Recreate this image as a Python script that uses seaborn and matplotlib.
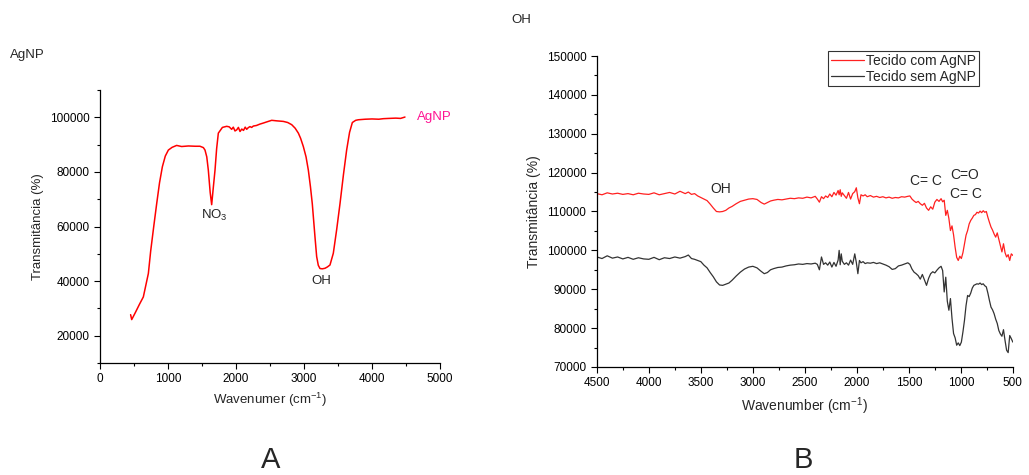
import numpy as np
import pandas as pd
import matplotlib
matplotlib.use('Agg')
import matplotlib.pyplot as plt
import seaborn as sns

# --- painel A: espectro da AgNP ---
a_x = [450, 466, 520, 580, 637, 711, 745, 790, 833, 875,
       917, 960, 1005, 1060, 1127, 1200, 1300, 1400, 1470, 1520,
       1544, 1570, 1593, 1620, 1642, 1665, 1691, 1715, 1740, 1800,
       1863, 1900, 1936, 1960, 1985, 2010, 2035, 2059, 2085, 2110,
       2135, 2157, 2180, 2205, 2230, 2255, 2300, 2350, 2402, 2450,
       2525, 2600, 2696, 2760, 2819, 2870, 2917, 2950, 2990, 3030,
       3064, 3095, 3122, 3162, 3186, 3210, 3235, 3270, 3309, 3345,
       3382, 3431, 3480, 3529, 3580, 3627, 3670, 3711, 3760, 3799,
       3900, 4000, 4100, 4167, 4250, 4350, 4420, 4485]
a_y = [27700, 25900, 28500, 31500, 34200, 42800, 51000, 60000, 68300, 76000,
       81900, 85800, 88000, 89000, 89700, 89300, 89500, 89400, 89400, 88900,
       88000, 85500, 80600, 72500, 68000, 74000, 80600, 88500, 94200, 96300,
       96700, 96500, 95600, 96400, 95000, 95400, 96300, 94800, 95700, 95200,
       96400, 95600, 96200, 96600, 96300, 96800, 97000, 97500, 97900, 98300,
       98900, 98700, 98500, 98100, 97300, 96000, 94200, 92300, 89300, 85500,
       80600, 74500, 68300, 56000, 49000, 45800, 44600, 44500, 44700, 45200,
       45900, 50200, 58800, 68300, 79000, 88000, 94500, 98100, 98900, 99100,
       99300, 99400, 99300, 99500, 99600, 99700, 99600, 100100]

# --- painel B: tecido com e sem AgNP ---
b_x = [4500, 4450, 4400, 4350, 4300, 4250, 4200, 4150, 4100, 4050,
       4000, 3950, 3900, 3850, 3800, 3750, 3700, 3650, 3620, 3590,
       3560, 3530, 3500, 3470, 3440, 3410, 3380, 3350, 3320, 3290,
       3260, 3230, 3200, 3160, 3120, 3080, 3040, 3000, 2960, 2920,
       2890, 2860, 2830, 2800, 2760, 2720, 2680, 2640, 2600, 2560,
       2520, 2480, 2440, 2400, 2380, 2360, 2340, 2320, 2300, 2280,
       2260, 2240, 2220, 2200, 2180, 2170, 2160, 2150, 2140, 2120,
       2100, 2080, 2060, 2040, 2020, 2005, 1990, 1975, 1960, 1940,
       1920, 1900, 1870, 1840, 1810, 1780, 1750, 1720, 1690, 1660,
       1630, 1600, 1570, 1540, 1510, 1490, 1470, 1450, 1430, 1410,
       1390, 1370, 1350, 1330, 1310, 1290, 1270, 1250, 1230, 1210,
       1190, 1175, 1160, 1145, 1130, 1115, 1100, 1085, 1070, 1055,
       1040, 1025, 1010, 995, 980, 965, 950, 935, 920, 905,
       890, 875, 860, 845, 830, 815, 800, 785, 770, 755,
       740, 725, 710, 695, 680, 665, 650, 635, 620, 605,
       590, 575, 560, 545, 530, 515, 500]
com_agnp = [114600, 114300, 114800, 114500, 114700, 114400, 114600, 114300, 114700, 114500,
            114400, 114800, 114300, 114600, 114900, 114500, 115200, 114600, 115000, 114400,
            114600, 114000, 113600, 113200, 112800, 111900, 110900, 110000, 109900, 110000,
            110300, 110900, 111300, 112000, 112600, 112900, 113200, 113300, 113100, 112300,
            111900, 112300, 112700, 112900, 113100, 113000, 113200, 113400, 113300, 113500,
            113400, 113700, 113500, 113900, 113200, 112400, 113800, 113300, 114000, 113600,
            114500, 113800, 114900, 114200, 115400, 114300, 115600, 113900, 114800, 114100,
            113400, 114900, 113200, 114600, 115100, 116100, 113500, 112000, 114300, 114000,
            114300, 113800, 114100, 113700, 113900, 113600, 113800, 113500, 113700, 113400,
            113600, 113500, 113800, 113700, 113900, 114000, 113200, 112700, 112300, 112600,
            112000, 111600, 112100, 110900, 110300, 111200, 110600, 112400, 113100, 112600,
            113300, 112500, 112900, 109000, 110300, 108200, 105100, 106300, 104000, 100800,
            98200, 97400, 98500, 97900, 99400, 101700, 103900, 105100, 106800, 107700,
            108300, 109000, 109200, 109800, 109600, 110100, 109700, 110200, 109800, 110000,
            108500, 107200, 106000, 105200, 104200, 103400, 104500, 102900, 101200, 99600,
            101700, 99400, 98300, 98900, 97400, 99100, 98700]
sem_agnp = [98300, 97900, 98600, 98000, 98300, 97800, 98200, 97700, 98100, 97800,
            97700, 98200, 97600, 98100, 97900, 98300, 98000, 98400, 98800, 97900,
            97700, 97400, 97100, 96200, 95500, 94300, 93200, 91900, 91100, 91000,
            91300, 91600, 92300, 93400, 94400, 95200, 95700, 95900, 95500, 94600,
            94000, 94300, 95000, 95300, 95600, 95700, 96000, 96200, 96300, 96500,
            96400, 96600, 96500, 96700, 96400, 95000, 98300, 96400, 96800, 96200,
            97000, 95700, 96900, 95900, 97500, 100000, 96300, 99100, 97200, 96400,
            96800, 96200, 97500, 96400, 99100, 96900, 94000, 97400, 96800, 97100,
            96600, 96800, 96700, 96900, 96600, 96800, 96500, 96200, 95800, 95100,
            95300, 96000, 96200, 96500, 96800, 96400, 95200, 94400, 94000, 93500,
            92600, 93800, 92400, 91000, 92800, 94000, 94500, 94200, 94900, 95500,
            95900, 94800, 89300, 93100, 86900, 84600, 87600, 82500, 78600, 77500,
            75600, 76200, 75500, 76400, 79000, 82000, 85800, 88400, 88100, 89000,
            90300, 91000, 91200, 91400, 91300, 91600, 91200, 91400, 90900, 90600,
            89000, 87100, 85400, 84700, 83700, 82300, 81200, 79400, 78500, 77900,
            79600, 76800, 74300, 73700, 78100, 77300, 76400]

sns.set_style('ticks')
plt.rcParams['font.family'] = ['Liberation Sans', 'DejaVu Sans']
plt.rcParams['mathtext.fontset'] = 'custom'
plt.rcParams['mathtext.rm'] = 'Liberation Sans'
plt.rcParams['mathtext.it'] = 'Liberation Sans'
plt.rcParams['axes.edgecolor'] = 'black'
plt.rcParams['xtick.color'] = 'black'
plt.rcParams['ytick.color'] = 'black'

fig = plt.figure(figsize=(10.29, 4.75), dpi=100)
axA = fig.add_axes([0.0972, 0.2358, 0.3304, 0.5747])
axB = fig.add_axes([0.580, 0.2274, 0.4043, 0.6547])

df_a = pd.DataFrame({'x': a_x, 'y': a_y})
sns.lineplot(data=df_a, x='x', y='y', ax=axA, color='#ff0000', lw=1.1,
             sort=False, estimator=None)
axA.set_xlim(0, 5000)
axA.set_ylim(10000, 110000)
axA.set_xticks(np.arange(0, 5001, 1000))
axA.set_xticks(np.arange(0, 5001, 500), minor=True)
axA.set_yticks(np.arange(20000, 100001, 20000))
axA.set_yticks(np.arange(10000, 110001, 10000), minor=True)
axA.set_xlabel('Wavenumer (cm$^{-1}$)', fontsize=9.5)
axA.set_ylabel('Transmitância (%)', fontsize=9.5)
axA.text(1480, 64000, 'NO$_3$', fontsize=9.5, va='center')
axA.text(3250, 40000, 'OH', fontsize=9.5, ha='center', va='center')
axA.text(4660, 100000, 'AgNP', fontsize=9.5, color='#ff1493', va='center')

df_b = pd.DataFrame({'x': b_x * 2, 'y': com_agnp + sem_agnp,
                     'amostra': ['Tecido com AgNP'] * len(b_x) + ['Tecido sem AgNP'] * len(b_x)})
sns.lineplot(data=df_b, x='x', y='y', hue='amostra', ax=axB, sort=False,
             estimator=None, lw=0.9,
             palette={'Tecido com AgNP': '#ff2020', 'Tecido sem AgNP': '#333333'})
axB.set_xlim(4500, 500)
axB.set_ylim(70000, 150000)
axB.set_xticks(np.arange(4500, 499, -500))
axB.set_xticks(np.arange(4500, 499, -250), minor=True)
axB.set_yticks(np.arange(70000, 150001, 10000))
axB.set_yticks(np.arange(70000, 150001, 5000), minor=True)
axB.set_xlabel('Wavenumber (cm$^{-1}$)', fontsize=10)
axB.set_ylabel('Transmitância (%)', fontsize=10)
axB.text(3304, 115850, 'OH', fontsize=10, ha='center', va='center')
axB.text(1337, 117750, 'C= C', fontsize=10, ha='center', va='center')
axB.text(962, 119300, 'C=O', fontsize=10, ha='center', va='center')
axB.text(955, 114560, 'C= C', fontsize=10, ha='center', va='center')
leg = axB.legend(loc='upper right', bbox_to_anchor=(0.951, 0.893),
                 bbox_transform=fig.transFigure, fontsize=10, frameon=True,
                 fancybox=False, handlelength=2.4, handletextpad=0.1,
                 borderpad=0.2, labelspacing=0.15, borderaxespad=0)
leg.get_frame().set_edgecolor('black')
leg.get_frame().set_linewidth(0.8)

for ax in (axA, axB):
    sns.despine(ax=ax)
    ax.tick_params(which='major', length=4, width=0.8, labelsize=8.5, direction='out')
    ax.tick_params(which='minor', length=2.5, width=0.8, direction='out')
    for s in ('left', 'bottom'):
        ax.spines[s].set_linewidth(0.9)

fig.text(10 / 1029, 1 - 55 / 475, 'AgNP', fontsize=9.5, va='center')
fig.text(521 / 1029, 1 - 20 / 475, 'OH', fontsize=9.5, ha='center', va='center')
fig.text(271 / 1029, 1 - 460 / 475, 'A', fontsize=21, ha='center', va='center')
fig.text(803 / 1029, 1 - 460 / 475, 'B', fontsize=21, ha='center', va='center')

fig.savefig('out.png', dpi=100)
